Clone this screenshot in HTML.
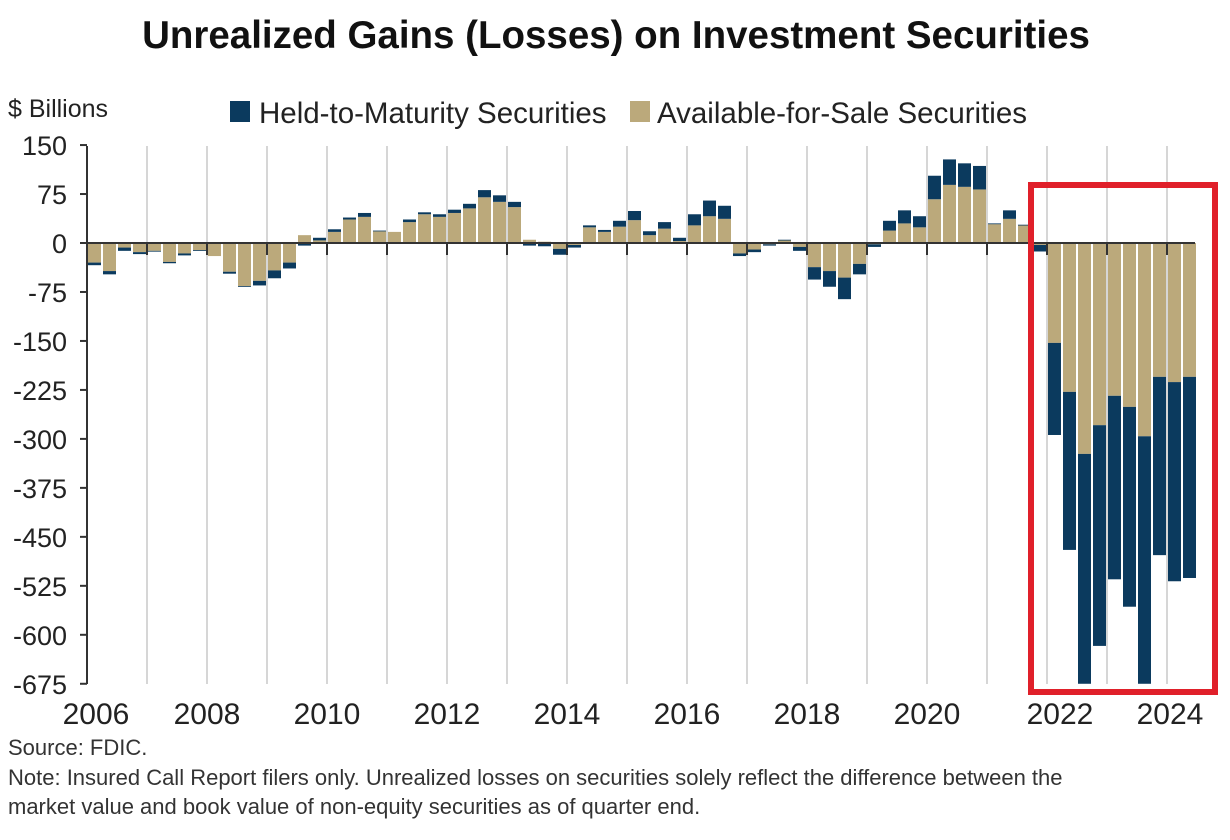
<!DOCTYPE html>
<html><head><meta charset="utf-8"><style>
html,body{margin:0;padding:0;background:#fff;}
svg{display:block;font-family:"Liberation Sans",Arial,sans-serif;}
</style></head><body>
<svg id="s" width="1230" height="840" viewBox="0 0 1230 840">
<text x="616" y="48" text-anchor="middle" font-size="38.5" font-weight="bold" fill="#111">Unrealized Gains (Losses) on Investment Securities</text>
<text x="8" y="117" font-size="25" fill="#222">$ Billions</text>
<rect x="230" y="101" width="20" height="21" fill="#0b3a5e"/>
<text x="259" y="123" font-size="29.5" fill="#222">Held-to-Maturity Securities</text>
<rect x="630" y="101" width="20" height="21" fill="#bba97b"/>
<text x="657" y="123" font-size="29.5" fill="#222">Available-for-Sale Securities</text>
<g id="grid" stroke="#d6d6d6" stroke-width="2"></g>
<g id="bars"></g>
<g id="ax" stroke="#333" stroke-width="2"></g>
<g font-size="27" fill="#222" text-anchor="end">
<text x="67" y="155">150</text><text x="67" y="204">75</text><text x="67" y="253">0</text>
<text x="67" y="302">-75</text><text x="67" y="351">-150</text><text x="67" y="400">-225</text>
<text x="67" y="449">-300</text><text x="67" y="498">-375</text><text x="67" y="547">-450</text>
<text x="67" y="596">-525</text><text x="67" y="645">-600</text><text x="67" y="694">-675</text>
</g>
<g font-size="30" fill="#222" text-anchor="middle">
<text x="96" y="724">2006</text><text x="207" y="724">2008</text><text x="327" y="724">2010</text>
<text x="447" y="724">2012</text><text x="567" y="724">2014</text><text x="687" y="724">2016</text>
<text x="807" y="724">2018</text><text x="927" y="724">2020</text><text x="1060" y="724">2022</text>
<text x="1170" y="724">2024</text>
</g>
<rect x="1031" y="185" width="184" height="507" fill="none" stroke="#e0202a" stroke-width="6"/>
<g font-size="22" fill="#333">
<text x="8" y="755">Source: FDIC.</text>
<text x="8" y="785">Note: Insured Call Report filers only. Unrealized losses on securities solely reflect the difference between the</text>
<text x="8" y="814">market value and book value of non-equity securities as of quarter end.</text>
</g>
</svg>
<script>
var afs=[-30,-43,-7,-14,-12,-29,-16,-11,-20,-44,-66,-58,-42,-30,12,4,17,36,40,18,17,32,44,40,46,53,70,63,55,5,2,-9,-3,24,17,25,35,12,22,3,27,41,37,-16,-10,-2,4,-6,-37,-43,-53,-32,-2,19,30,24,67,89,86,82,29,37,27,-3,-153,-228,-323,-279,-234,-251,-296,-205,-213,-205];
var htm=[-4,-5,-5,-3,-1,-2,-3,-1,0,-3,-1,-7,-12,-9,-4,4,4,3,6,1,0,4,3,4,5,7,11,10,8,-4,-5,-9,-4,3,3,9,14,6,10,5,17,24,20,-4,-4,-2,1,-6,-19,-24,-33,-16,-4,15,20,17,36,39,36,36,1,13,1,-10,-141,-242,-352,-338,-281,-306,-379,-273,-305,-308];
var NS="http://www.w3.org/2000/svg",k=0.653,z=243;
function el(p,t,a){var e=document.createElementNS(NS,t);for(var i in a)e.setAttribute(i,a[i]);document.getElementById(p).appendChild(e);}
for(var y=2007;y<=2024;y++){var x=87+(y-2006)*60;el("grid","line",{x1:x,x2:x,y1:146,y2:684});el("ax","line",{x1:x,x2:x,y1:z,y2:z+12});}
function bar(x,a,b,c){var y1=z-a*k,y2=z-b*k;el("bars","rect",{x:x,y:Math.min(y1,y2),width:13,height:Math.max(Math.abs(y2-y1),0.8),fill:c});}
for(var i=0;i<afs.length;i++){var x=88+i*15,a=afs[i],h=htm[i];
bar(x,0,a,"#bba97b");
if(h!=0){var s=(h>0&&a>0)||(h<0&&a<0)?a:0;bar(x,s,s+h,"#0b3a5e");}}
el("ax","line",{x1:87,x2:1195,y1:z,y2:z});
el("ax","line",{x1:87,x2:87,y1:146,y2:684});
for(var v=150;v>=-675;v-=75){el("ax","line",{x1:80,x2:87,y1:z-v*k,y2:z-v*k});}
</script>
</body></html>
